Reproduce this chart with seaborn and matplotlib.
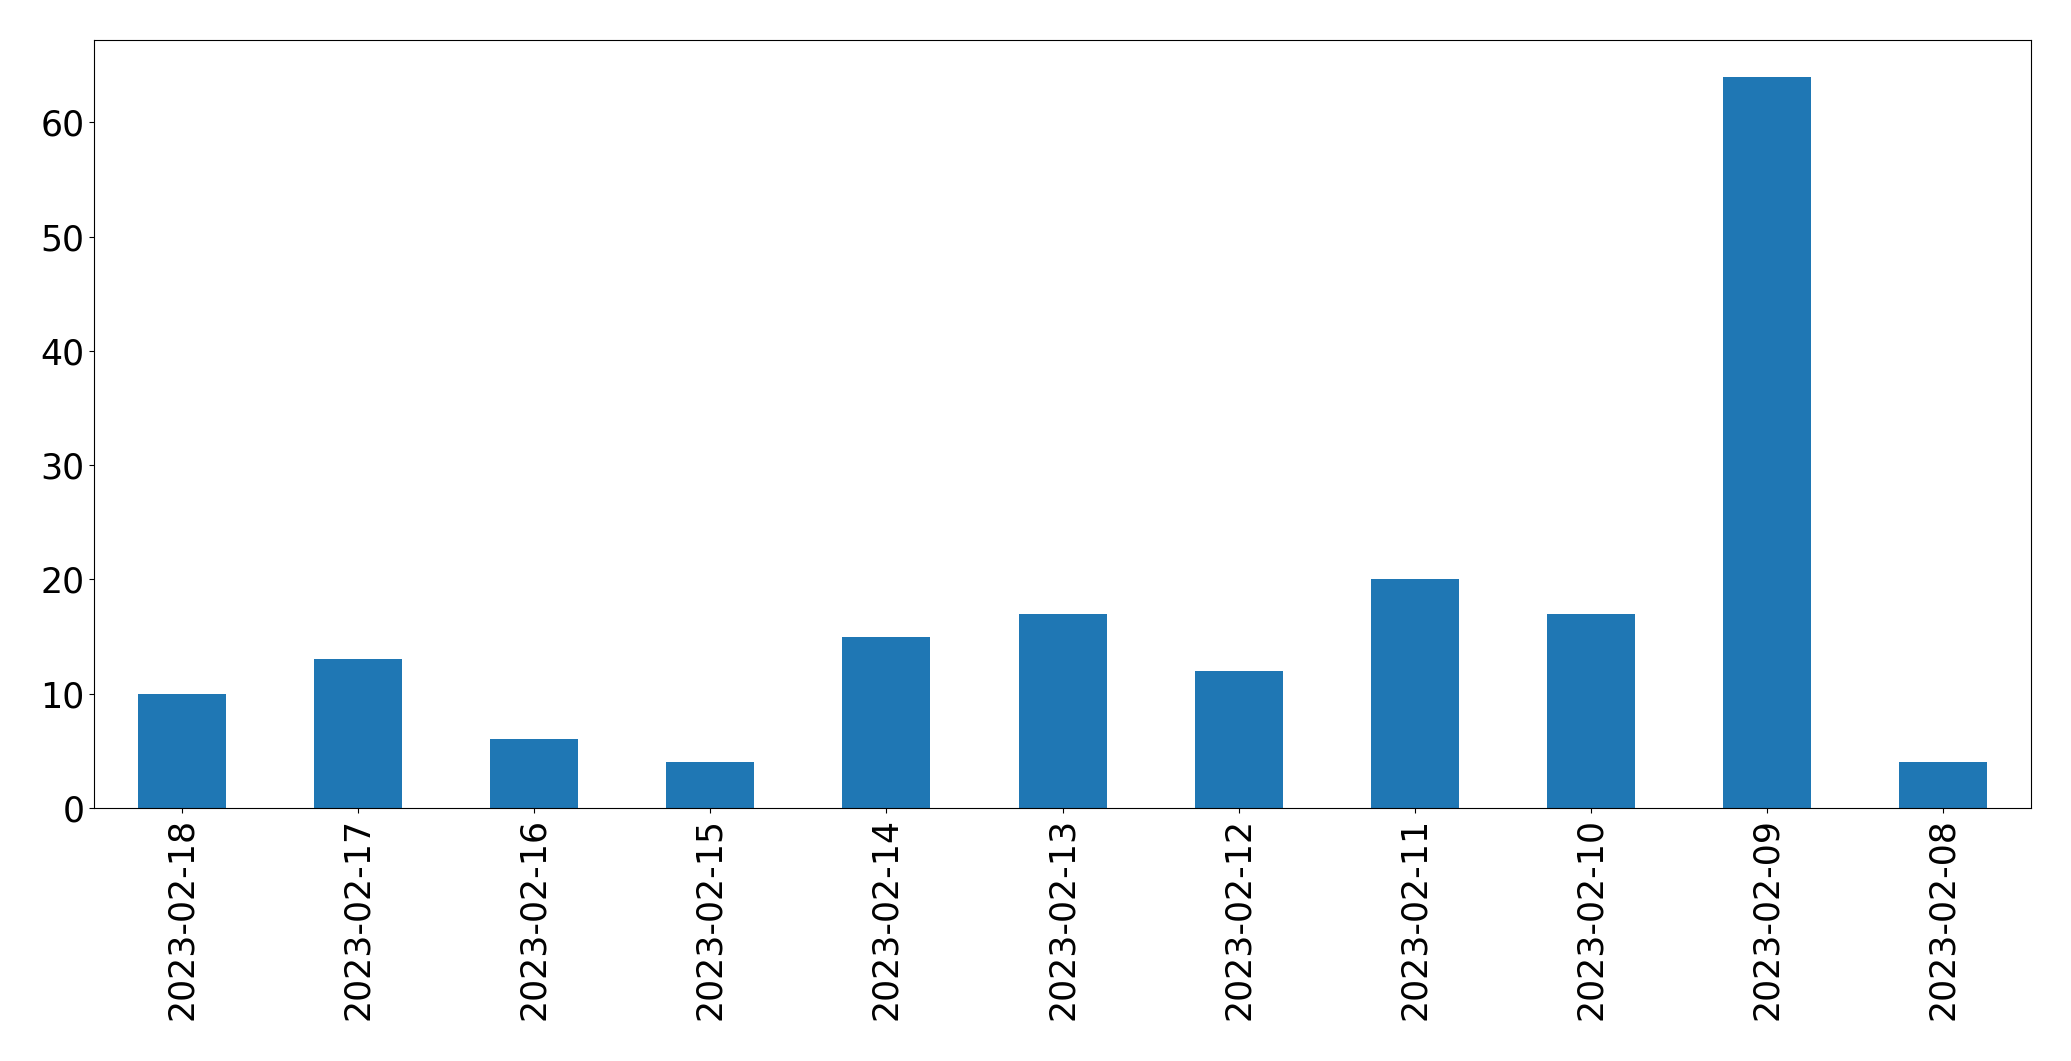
import pandas as pd
import numpy as np
from matplotlib import pyplot as plt
import seaborn as sns


# fechas y conteos
dates = ['2023-02-18', '2023-02-17', '2023-02-16', '2023-02-15', '2023-02-14',
         '2023-02-13', '2023-02-12', '2023-02-11', '2023-02-10', '2023-02-09',
         '2023-02-08']
counts = [10, 13, 6, 4, 15, 17, 12, 20, 17, 64, 4]

df = pd.DataFrame({'date': dates, 'count': counts})

fig = plt.figure(figsize=(20.71, 10.61), dpi=100)
ax = fig.add_axes([0.0454, 0.2385, 0.9353, 0.7238])

sns.barplot(data=df, x='date', y='count', order=dates,
            color='#1f77b4', saturation=1, width=0.5, ax=ax)

ax.set_xlim(-0.5, len(dates) - 0.5)
ax.set_xlabel('')
ax.set_ylabel('')
ax.tick_params(axis='both', labelsize=25)
plt.xticks(rotation=90)

plt.savefig('out.png', dpi=100)
